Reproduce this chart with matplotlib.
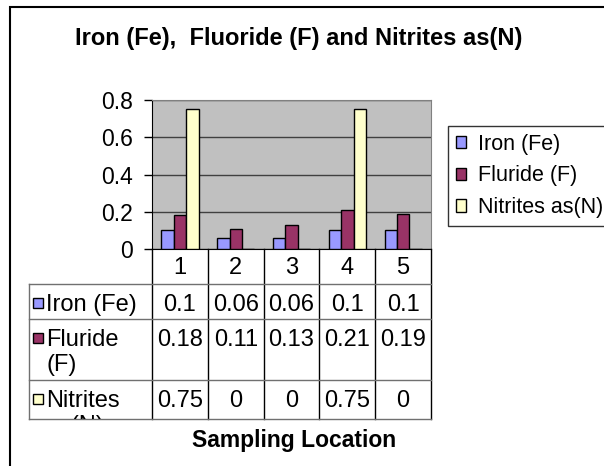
import matplotlib
matplotlib.use("Agg")
import matplotlib.pyplot as plt
from matplotlib.patches import Rectangle, Patch
from matplotlib.transforms import blended_transform_factory
import numpy as np

plt.rcParams['font.family'] = ['Liberation Sans', 'DejaVu Sans']

# datos
locations = ['1', '2', '3', '4', '5']
series_names = ['Iron (Fe)', 'Fluride (F)', 'Nitrites as(N)']
table_labels = ['Iron (Fe)', 'Fluride\n(F)', 'Nitrites\nas(N)']
iron = [0.1, 0.06, 0.06, 0.1, 0.1]
fluoride = [0.18, 0.11, 0.13, 0.21, 0.19]
nitrites = [0.75, 0, 0, 0.75, 0]
colors = ['#9999FF', '#993366', '#FFFFCC']

W, H = 604, 466


def px_rect(l, t, r, b):
    """Rectangulo en pixeles -> fraccion de figura."""
    return [l / W, 1 - b / H, (r - l) / W, (b - t) / H]


fig = plt.figure(figsize=(W / 100, H / 100), dpi=100)
fig.patch.set_facecolor('white')

# marco del grafico (se sale por la derecha y por abajo)
fig.patches.append(Rectangle((10 / W, -0.2), 1.5, 1 - 7 / H + 0.2, transform=fig.transFigure,
                             fill=False, ec='black', lw=1.5))

# area de barras
ax = fig.add_axes(px_rect(152, 100, 431, 249))
ax.set_facecolor('#C0C0C0')
x = np.arange(len(locations))
w = 1 / 4.5
for k, vals in enumerate([iron, fluoride, nitrites]):
    ax.bar(x + (k - 1) * w, vals, width=w, color=colors[k], edgecolor='black', lw=1, zorder=3)

ax.set_xlim(-0.5, len(locations) - 0.5)
ax.set_ylim(0, 0.8)
ax.set_yticks(np.arange(0, 0.81, 0.2))
ax.yaxis.set_major_formatter(plt.FuncFormatter(lambda v, p: '%g' % round(v, 2)))
ax.set_xticks([])
ax.yaxis.grid(True, color='#404040', lw=1, zorder=1)
ax.tick_params(axis='y', length=6, width=1, pad=8, labelsize=16.5, direction='out')
for s in ['top', 'right']:
    ax.spines[s].set_color('#808080')
ax.spines['left'].set_color('black')
ax.spines['bottom'].set_color('black')

# tabla de datos
tab = fig.add_axes(px_rect(29, 249, 431, 419))
tab.set_xlim(29, 431)
tab.set_ylim(419, 249)
tab.axis('off')
trans = blended_transform_factory(ax.transData, tab.transData)

row_tops = [249, 284, 319, 380, 441]
for i, loc in enumerate(locations):
    tab.text(i, (row_tops[0] + row_tops[1]) / 2 + 1, loc, transform=trans, ha='center', va='center',
             fontsize=17)

for b in range(len(locations) + 1):
    tab.plot([b - 0.5, b - 0.5], [249, 419], color='black', lw=1, transform=trans, clip_on=False)
for yy in row_tops[1:4] + [419]:
    tab.plot([29, 431], [yy, yy], color='#707070', lw=1, clip_on=False)
tab.plot([29, 29], [row_tops[1], 419], color='#707070', lw=1, clip_on=False)

for r, vals in enumerate([iron, fluoride, nitrites]):
    top = row_tops[r + 1]
    tab.add_patch(Rectangle((33, top + 14), 10, 10, fc=colors[r], ec='black', lw=1, clip_on=False))
    tab.text(46, top + 10, table_labels[r], ha='left', va='top', fontsize=17, linespacing=1.2,
             clip_on=True)
    for i, v in enumerate(vals):
        tab.text(i, top + 10, '%g' % v, transform=trans, ha='center', va='top', fontsize=17)

# leyenda
handles = [Patch(fc=c, ec='black', lw=1) for c in colors]
leg = fig.legend(handles, series_names, loc='upper left', bbox_to_anchor=(448 / W, 1 - 126 / H),
                 fontsize=15.5, frameon=True, fancybox=False, edgecolor='black', borderpad=0.35,
                 labelspacing=0.5, handlelength=0.5, handleheight=0.5, handletextpad=0.55,
                 borderaxespad=0)
leg.get_frame().set_linewidth(1)

fig.text(299 / W, 1 - 38 / H, 'Iron (Fe),  Fluoride (F) and Nitrites as(N)', ha='center', va='center',
         fontsize=17, fontweight='bold')
fig.text(294 / W, 1 - 440 / H, 'Sampling Location', ha='center', va='center', fontsize=16.5,
         fontweight='bold')

fig.savefig('out.png', dpi=100)
